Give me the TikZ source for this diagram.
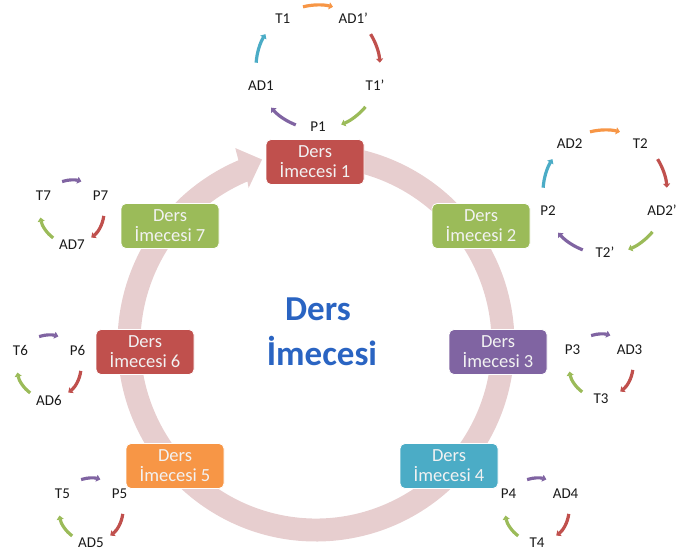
\documentclass[tikz,border=0pt]{standalone}
\usepackage{fontspec}
\setmainfont{Carlito}
\usetikzlibrary{arrows.meta,calc}

\definecolor{cRed}{HTML}{C0504D}
\definecolor{cGreen}{HTML}{9BBB59}
\definecolor{cPurple}{HTML}{8064A2}
\definecolor{cTeal}{HTML}{4BACC6}
\definecolor{cOrange}{HTML}{F79646}
\definecolor{cRing}{RGB}{231,206,207}
\definecolor{cTitle}{HTML}{2A64C2}
\definecolor{cLabel}{HTML}{1A1A1A}

% five labels on a pentagon, joined clockwise by coloured arcs
\newcommand\fivecycle[7]{%
  \coordinate (#1) at (#2);
  \node[lbl] (#1-s)  at ($(#1)+(-90:60)$) {#3};
  \node[lbl] (#1-se) at ($(#1)+(-18:60)$) {#4};
  \node[lbl] (#1-ne) at ($(#1)+(54:60)$)  {#5};
  \node[lbl] (#1-nw) at ($(#1)+(126:60)$) {#6};
  \node[lbl] (#1-sw) at ($(#1)+(198:60)$) {#7};
  \draw[cyc,cOrange] ($(#1)+(104:62)$) arc[start angle=104,end angle=76,radius=62];
  \draw[cyc,cRed]    ($(#1)+(32:62)$)  arc[start angle=32,end angle=4,radius=62];
  \draw[cyc,cGreen]  ($(#1)+(-40:62)$) arc[start angle=-40,end angle=-68,radius=62];
  \draw[cyc,cPurple] ($(#1)+(-111:62)$) arc[start angle=-111,end angle=-139,radius=62];
  \draw[cyc,cTeal]   ($(#1)+(176:62)$) arc[start angle=176,end angle=148,radius=62];
}
% three labels on a triangle, joined clockwise by coloured arcs
\newcommand\threecycle[5]{%
  \coordinate (#1) at (#2);
  \node[lbl] (#1-l) at ($(#1)+(150:33)$) {#3};
  \node[lbl] (#1-r) at ($(#1)+(30:33)$)  {#4};
  \node[lbl] (#1-b) at ($(#1)+(-90:33)$) {#5};
  \draw[cyc,cPurple] ($(#1)+(108:32)$) arc[start angle=108,end angle=73,radius=32];
  \draw[cyc,cRed]    ($(#1)+(-7:32)$)  arc[start angle=-7,end angle=-53,radius=32];
  \draw[cyc,cGreen]  ($(#1)+(234:32)$) arc[start angle=234,end angle=190,radius=32];
}

\begin{document}
\begin{tikzpicture}[x=1pt,y=1pt,
  box/.style={rounded corners=5pt, minimum width=98pt, minimum height=45pt,
    draw=white, line width=0.8pt, text=white!95!black, align=center,
    font=\fontsize{18.5}{20}\selectfont, inner sep=0pt},
  lbl/.style={font=\fontsize{15}{16}\selectfont, text=cLabel, inner sep=0pt},
  cyc/.style={line width=3.2pt, -{Triangle[length=4pt,width=7pt]}},
  title/.style={font=\bfseries\fontsize{35}{40}\selectfont, text=cTitle, anchor=base, inner sep=0pt}
]
\useasboundingbox (0,0) rectangle (677,558);

% the large circular arrow behind the boxes
\coordinate (ring) at (316,215);
\fill[cRing]
  ($(ring)+(95:198.5)$) arc[start angle=95,end angle=-247,radius=198.5]
  -- ($(ring)+(112.5:211)$)
  -- ($(ring)+(113:190)+(23:22)$)
  -- ($(ring)+(113.5:169)$)
  -- ($(ring)+(113:175.5)$) arc[start angle=-247,end angle=95,radius=175.5]
  -- cycle;

% the seven boxes
\node[box, fill=cRed]    (b1) at (315,396) {Ders\\İmecesi 1};
\node[box, fill=cGreen]  (b2) at (481,332) {Ders\\İmecesi 2};
\node[box, fill=cPurple] (b3) at (498,206) {Ders\\İmecesi 3};
\node[box, fill=cTeal]   (b4) at (449,92)  {Ders\\İmecesi 4};
\node[box, fill=cOrange] (b5) at (175,92)  {Ders\\İmecesi 5};
\node[box, fill=cRed]    (b6) at (145,206) {Ders\\İmecesi 6};
\node[box, fill=cGreen]  (b7) at (170,332) {Ders\\İmecesi 7};

% central title
\node[title] (title1) at (318,238) {Ders};
\node[title] (title2) at (322,193) {İmecesi};

% small cycles
\fivecycle{c1}{318,491}{P1}{T1’}{AD1’}{T1}{AD1}
\fivecycle{c2}{605,366}{T2’}{AD2’}{T2}{AD2}{P2}
\threecycle{c3}{601,192}{P3}{AD3}{T3}
\threecycle{c4}{537,48}{P4}{AD4}{T4}
\threecycle{c5}{91,48}{T5}{P5}{AD5}
\threecycle{c6}{49,191}{T6}{P6}{AD6}
\threecycle{c7}{72,346}{T7}{P7}{AD7}
\end{tikzpicture}
\end{document}
